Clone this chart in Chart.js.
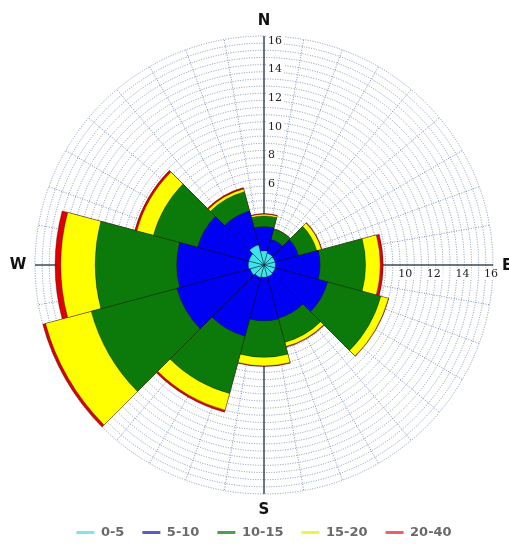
<!DOCTYPE html>
<html>
<head>
<meta charset="utf-8">
<title>Wind rose</title>
<script src="https://cdn.jsdelivr.net/npm/chart.js@4.4.1/dist/chart.umd.min.js"></script>
<style>
  html, body { margin: 0; padding: 0; background: #fff; }
  #wrap { width: 509px; height: 544px; position: relative; }
</style>
</head>
<body>
<div id="wrap"><canvas id="rose"></canvas></div>
<script>
// sectors clockwise from north, 30 degrees each
const sectors = ["N", "30°", "60°", "E", "120°", "150°", "S", "210°", "240°", "W", "300°", "330°"];
const speedBins = ["0-5", "5-10", "10-15", "15-20", "20-40"];

// frequency (%) of each speed bin per sector
const freq0_5   = [1.00, 0.85, 0.80, 0.80, 0.80, 0.85, 0.85, 0.90, 1.00, 1.10, 1.10, 1.45];
const freq5_10  = [1.68, 1.00, 1.70, 3.12, 3.80, 3.00, 3.05, 4.25, 5.30, 5.00, 3.70, 2.45];
const freq10_15 = [0.75, 0.75, 1.32, 3.18, 3.85, 1.75, 2.55, 4.15, 6.20, 5.70, 3.20, 1.40];
const freq15_20 = [0.12, 0.00, 0.33, 1.02, 0.55, 0.30, 0.60, 1.20, 3.30, 2.40, 1.20, 0.20];
const freq20_40 = [0.05, 0.02, 0.05, 0.21, 0.03, 0.05, 0.05, 0.15, 0.20, 0.40, 0.15, 0.10];

// tick labels that show along the N and E axes
const tickLabels = [6, 8, 10, 12, 14, 16];

const binColors = ["#3fe3ea", "#0000f2", "#0b7a0b", "#ffff00", "#e00000"];
const legendColors = ["#80e4e8", "#5c5cc8", "#4f9f4f", "#f2f240", "#f06060"];

const bins = [freq0_5, freq5_10, freq10_15, freq15_20, freq20_40];

// stacked rose: every ring is a running total, the smallest one is drawn on top
let running = sectors.map(() => 0);
const datasets = bins.map((vals, i) => {
  running = running.map((r, j) => r + vals[j]);
  return {
    label: speedBins[i],
    data: running.slice(),
    backgroundColor: binColors[i],
    borderColor: "rgba(0,0,0,0.55)",
    borderWidth: 0.6,
  };
});

const GRID = "#7f92b3";

const roseDecor = {
  id: "roseDecor",
  beforeDatasetsDraw(chart) {
    const r = chart.scales.r;
    const ctx = chart.ctx;
    const cx = r.xCenter, cy = r.yCenter, R = r.drawingArea;
    ctx.save();

    // dotted spokes every 10 degrees
    ctx.strokeStyle = GRID;
    ctx.lineWidth = 1;
    ctx.setLineDash([1, 1.5]);
    for (let a = 0; a < 360; a += 10) {
      if (a % 90 === 0) continue;
      const t = (a - 90) * Math.PI / 180;
      ctx.beginPath();
      ctx.moveTo(cx, cy);
      ctx.lineTo(cx + Math.cos(t) * R, cy + Math.sin(t) * R);
      ctx.stroke();
    }

    // solid compass axes
    ctx.setLineDash([]);
    ctx.strokeStyle = "#3b4b60";
    ctx.lineWidth = 1.5;
    ctx.beginPath();
    ctx.moveTo(cx, cy - R); ctx.lineTo(cx, cy + R);
    ctx.moveTo(cx - R, cy); ctx.lineTo(cx + R, cy);
    ctx.stroke();

    // tick labels along the north and east axes
    ctx.font = '11px "DejaVu Serif"';
    ctx.textBaseline = "middle";
    tickLabels.forEach((v) => {
      const d = r.getDistanceFromCenterForValue(v);
      const txt = String(v);
      const w = ctx.measureText(txt).width;
      ctx.fillStyle = "#fff";
      ctx.fillRect(cx + 2, cy - d - 1, w + 4, 12);
      ctx.fillRect(cx + d - 2 - w / 2 - 2, cy + 3, w + 4, 11);
      ctx.fillStyle = "#222";
      ctx.textAlign = "left";
      ctx.fillText(txt, cx + 4, cy - d + 5);
      ctx.textAlign = "center";
      ctx.fillText(txt, cx + d - 2, cy + 9);
    });
    ctx.restore();
  },
  afterDraw(chart) {
    const r = chart.scales.r;
    const ctx = chart.ctx;
    const cx = r.xCenter, cy = r.yCenter, R = r.drawingArea;
    ctx.save();
    ctx.font = 'bold 15px "DejaVu Sans"';
    ctx.fillStyle = "#111";
    ctx.textAlign = "center";
    ctx.textBaseline = "middle";
    ctx.fillText("N", cx, cy - R - 15);
    ctx.fillText("S", cx, cy + R + 16);
    ctx.fillText("W", cx - R - 17, cy);
    ctx.fillText("E", cx + R + 14, cy + 1);
    ctx.restore();
  },
};

new Chart(document.getElementById("rose"), {
  type: "polarArea",
  data: { labels: sectors, datasets },
  options: {
    responsive: true,
    maintainAspectRatio: false,
    animation: false,
    events: [],
    layout: { padding: { left: 35, right: 16, top: 22, bottom: -5 } },
    scales: {
      r: {
        min: 0,
        max: 16,
        startAngle: -15,
        ticks: { display: false, stepSize: 0.5 },
        grid: { circular: true, color: GRID, lineWidth: 1 },
        border: { dash: [1, 1.5] },
        angleLines: { display: false },
        pointLabels: { display: false },
      },
    },
    plugins: {
      tooltip: { enabled: false },
      legend: {
        position: "bottom",
        labels: {
          usePointStyle: true,
          pointStyleWidth: 18,
          padding: 18,
          color: "#6a6a6a",
          font: { family: "DejaVu Sans", size: 13, weight: "bold" },
          generateLabels: (chart) =>
            chart.data.datasets.map((ds, i) => ({
              text: ds.label,
              pointStyle: "line",
              strokeStyle: legendColors[i],
              fillStyle: legendColors[i],
              lineWidth: 3,
              fontColor: "#6a6a6a",
              datasetIndex: i,
              hidden: false,
            })),
        },
      },
    },
  },
  plugins: [roseDecor],
});
</script>
</body>
</html>
